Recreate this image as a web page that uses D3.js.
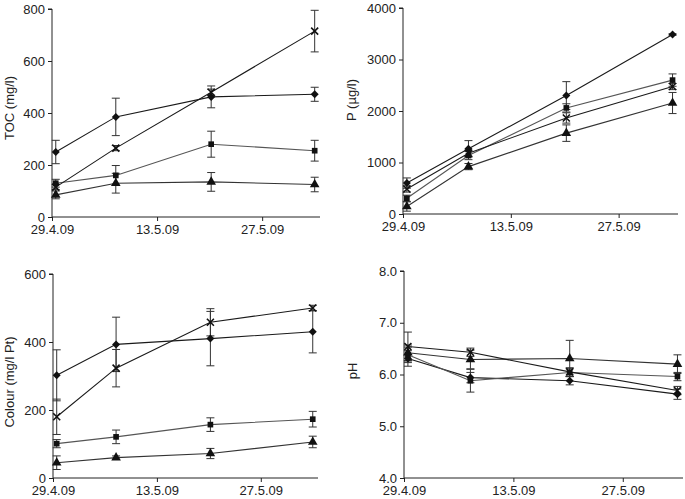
<!DOCTYPE html>
<html>
<head>
<meta charset="utf-8">
<script src="https://d3js.org/d3.v7.min.js"></script>
<style>
  body { margin: 0; background: #fff; }
  text { font-family: "Liberation Sans", Arial, sans-serif; }
</style>
</head>
<body>
<div id="chart"></div>
<script>
// sampling dates and axis ticks
const sampleDates = ["2009-04-29T12:00", "2009-05-07T12:00", "2009-05-20T05:00", "2009-06-03T00:00"];
const tickDates = ["2009-04-29T00:00", "2009-05-13T00:00", "2009-05-27T00:00"];
const axisEnd = "2009-06-03T17:00";

// series order: diamond, square, triangle, cross
const seriesMarkers = ["diamond", "square", "triangle", "cross"];

const tocMeans = [[250, 385, 462, 472], [130, 160, 280, 255], [85, 130, 135, 125], [115, 265, 480, 715]];
const tocErrs  = [[45, 72, 42, 27], [15, 38, 50, 40], [15, 38, 36, 28], [10, 10, 12, 80]];
const tocTicks = [0, 200, 400, 600, 800];

const pMeans = [[600, 1265, 2300, 3485], [305, 1135, 2060, 2600], [145, 920, 1570, 2155], [485, 1180, 1865, 2475]];
const pErrs  = [[100, 160, 270, 15], [60, 80, 80, 120], [90, 60, 160, 205], [60, 60, 100, 60]];
const pTicks = [0, 1000, 2000, 3000, 4000];

const colMeans = [[302, 393, 410, 430], [101, 121, 157, 173], [45, 60, 72, 106], [180, 323, 458, 500]];
const colErrs  = [[75, 80, 80, 62], [12, 20, 20, 23], [20, 5, 15, 17], [52, 55, 40, 8]];
const colTicks = [0, 200, 400, 600];

const phMeans = [[6.31, 5.94, 5.88, 5.62], [6.38, 5.88, 6.04, 5.96], [6.42, 6.29, 6.31, 6.2], [6.54, 6.43, 6.05, 5.69]];
const phErrs  = [[0.15, 0.1, 0.08, 0.1], [0.15, 0.22, 0.08, 0.08], [0.15, 0.18, 0.35, 0.18], [0.28, 0.08, 0.08, 0.08]];
const phTicks = [4, 5, 6, 7, 8];

const parse = d3.timeParse("%Y-%m-%dT%H:%M");
const fmtDate = d3.timeFormat("%-d.%-m.%y");

const panels = [
  {title: "TOC (mg/l)", means: tocMeans, errs: tocErrs, ticks: tocTicks, fmt: d3.format("d"),
   box: {l: 52, r: 320, t: 9, b: 217}, titleX: 9, titleY: 108},
  {title: "P (\u00b5g/l)", means: pMeans, errs: pErrs, ticks: pTicks, fmt: d3.format("d"),
   box: {l: 403, r: 678, t: 8, b: 214}, titleX: 351, titleY: 100},
  {title: "Colour (mg/l Pt)", means: colMeans, errs: colErrs, ticks: colTicks, fmt: d3.format("d"),
   box: {l: 53, r: 318, t: 274, b: 478}, titleX: 9, titleY: 382},
  {title: "pH", means: phMeans, errs: phErrs, ticks: phTicks, fmt: d3.format(".1f"),
   box: {l: 404, r: 683, t: 271, b: 478}, titleX: 352, titleY: 371}
];

const lineColors = {diamond: "#1a1a1a", square: "#555", triangle: "#333", cross: "#1a1a1a"};

const svg = d3.select("#chart").append("svg")
  .attr("width", 685).attr("height", 499);

panels.forEach(p => {
  const x = d3.scaleTime()
    .domain([parse(tickDates[0]), parse(axisEnd)])
    .range([p.box.l, p.box.r]);
  const y = d3.scaleLinear()
    .domain(d3.extent(p.ticks))
    .range([p.box.b, p.box.t]);

  const g = svg.append("g");

  // axes
  const yAxis = g.append("g")
    .attr("transform", `translate(${p.box.l},0)`)
    .call(d3.axisLeft(y).tickValues(p.ticks).tickFormat(p.fmt).tickSize(4).tickPadding(3));
  const xAxis = g.append("g")
    .attr("transform", `translate(0,${p.box.b})`)
    .call(d3.axisBottom(x).tickValues(tickDates.map(parse)).tickFormat(fmtDate).tickSize(4).tickPadding(4));
  [yAxis, xAxis].forEach(a => {
    a.select(".domain").attr("stroke", "#222");
    a.selectAll(".tick line").attr("stroke", "#222");
    a.selectAll("text").attr("font-size", 13).attr("fill", "#222")
      .style("font-family", '"Liberation Sans", Arial, sans-serif');
  });
  yAxis.select(".domain").attr("d", `M-4,${p.box.t}H0V${p.box.b}`);
  xAxis.select(".domain").attr("d", `M${p.box.l},0H${p.box.r}`);

  g.append("text")
    .attr("transform", `translate(${p.titleX},${p.titleY}) rotate(-90)`)
    .attr("text-anchor", "middle")
    .attr("dy", "0.35em")
    .attr("font-size", 13)
    .attr("fill", "#222")
    .text(p.title);

  const dates = sampleDates.map(parse);
  const line = d3.line().x((d, i) => x(dates[i])).y(d => y(d));

  // error bars
  p.means.forEach((vals, s) => {
    vals.forEach((v, i) => {
      const e = p.errs[s][i];
      const cx = x(dates[i]);
      const y0 = y(v - e), y1 = y(v + e);
      g.append("path")
        .attr("d", `M${cx},${y0}V${y1}M${cx - 4},${y0}H${cx + 4}M${cx - 4},${y1}H${cx + 4}`)
        .attr("stroke", "#333").attr("stroke-width", 1).attr("fill", "none");
    });
  });

  // lines
  p.means.forEach((vals, s) => {
    g.append("path")
      .attr("d", line(vals))
      .attr("fill", "none")
      .attr("stroke", lineColors[seriesMarkers[s]])
      .attr("stroke-width", 1.1);
  });

  // markers
  p.means.forEach((vals, s) => {
    const kind = seriesMarkers[s];
    vals.forEach((v, i) => {
      const cx = x(dates[i]), cy = y(v);
      if (kind === "cross") {
        g.append("path")
          .attr("d", `M${cx - 3.5},${cy - 3.5}L${cx + 3.5},${cy + 3.5}M${cx - 3.5},${cy + 3.5}L${cx + 3.5},${cy - 3.5}`)
          .attr("stroke", "#111").attr("stroke-width", 1.6).attr("fill", "none");
      } else if (kind === "diamond") {
        g.append("path")
          .attr("d", `M${cx},${cy - 4}L${cx + 4},${cy}L${cx},${cy + 4}L${cx - 4},${cy}Z`)
          .attr("fill", "#111");
      } else {
        const sym = kind === "square" ? d3.symbolSquare : d3.symbolTriangle;
        const size = kind === "square" ? 32 : 40;
        g.append("path")
          .attr("d", d3.symbol(sym, size)())
          .attr("transform", `translate(${cx},${cy})`)
          .attr("fill", "#111");
      }
    });
  });
});
</script>
</body>
</html>
